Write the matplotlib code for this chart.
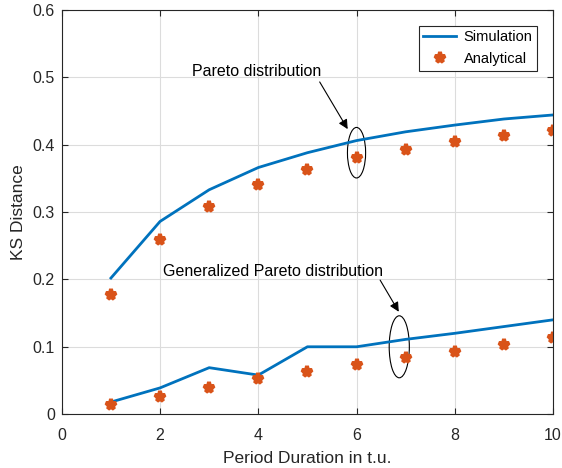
import matplotlib
matplotlib.use("Agg")
import matplotlib.pyplot as plt
from matplotlib.patches import Ellipse

plt.rcParams['font.family'] = ['Liberation Sans', 'DejaVu Sans']
plt.rcParams['font.size'] = 10

# Period durations (t.u.)
periods = [1, 2, 3, 4, 5, 6, 7, 8, 9, 10]

# Pareto distribution
pareto_sim = [0.202, 0.286, 0.333, 0.366, 0.388, 0.406, 0.419, 0.429, 0.438, 0.444]
pareto_ana = [0.177, 0.259, 0.308, 0.340, 0.362, 0.380, 0.392, 0.404, 0.413, 0.420]

# Generalized Pareto distribution
gpd_sim = [0.018, 0.039, 0.069, 0.058, 0.100, 0.100, 0.111, 0.120, 0.130, 0.140]
gpd_ana = [0.013, 0.026, 0.039, 0.052, 0.062, 0.073, 0.084, 0.093, 0.102, 0.113]

blue = '#0072BD'
orange = '#D95319'

fig = plt.figure(figsize=(5.62, 4.68), dpi=100)
ax = fig.add_axes([0.110, 0.115, 0.874, 0.864])

ax.plot(periods, pareto_sim, color=blue, lw=2, label='Simulation')
ax.plot(periods, pareto_ana, ls='none', marker='*', ms=8, mew=2.8,
        color=orange, label='Analytical')
ax.plot(periods, gpd_sim, color=blue, lw=2)
ax.plot(periods, gpd_ana, ls='none', marker='*', ms=8, mew=2.8, color=orange)

ax.set_xlim(0, 10)
ax.set_ylim(0, 0.6)
ax.set_xticks(range(0, 11, 2))
ax.set_yticks([0, 0.1, 0.2, 0.3, 0.4, 0.5, 0.6])
ax.set_yticklabels(['0', '0.1', '0.2', '0.3', '0.4', '0.5', '0.6'])
ax.grid(True, color='#dcdcdc', lw=0.8)
ax.set_axisbelow(True)
ax.tick_params(direction='in', top=True, right=True, length=4, colors='#262626',
               labelsize=11.5, pad=5)
ax.tick_params(axis='x', pad=10)
for s in ax.spines.values():
    s.set_color('#262626')
    s.set_linewidth(0.8)

ax.set_xlabel('Period Duration in t.u.', fontsize=12.5, color='#262626', labelpad=6)
ax.set_ylabel('KS Distance', fontsize=12.5, color='#262626', labelpad=5)

arrow = dict(arrowstyle='-|>', color='black', lw=0.8, mutation_scale=14,
             shrinkA=0, shrinkB=0)

# Pareto annotation
ax.add_patch(Ellipse((6.0, 0.388), 0.37, 0.075, fill=False, ec='black', lw=0.8))
ax.text(3.96, 0.508, 'Pareto distribution', ha='center', va='center', fontsize=11.5)
ax.annotate('', xy=(5.82, 0.423), xytext=(5.25, 0.493), arrowprops=arrow)

# Generalized Pareto annotation
ax.add_patch(Ellipse((6.87, 0.100), 0.41, 0.092, fill=False, ec='black', lw=0.8))
ax.text(4.3, 0.211, 'Generalized Pareto distribution', ha='center', va='center',
        fontsize=11.5)
ax.annotate('', xy=(6.86, 0.152), xytext=(6.48, 0.199), arrowprops=arrow)

leg = ax.legend(loc='upper right', fancybox=False, framealpha=1,
                edgecolor='#262626', fontsize=10.5, handlelength=2.3,
                handletextpad=0.5, borderaxespad=1.1, borderpad=0.3,
                labelspacing=0.55)
leg.get_frame().set_linewidth(0.8)

fig.savefig('out.png', dpi=100)
